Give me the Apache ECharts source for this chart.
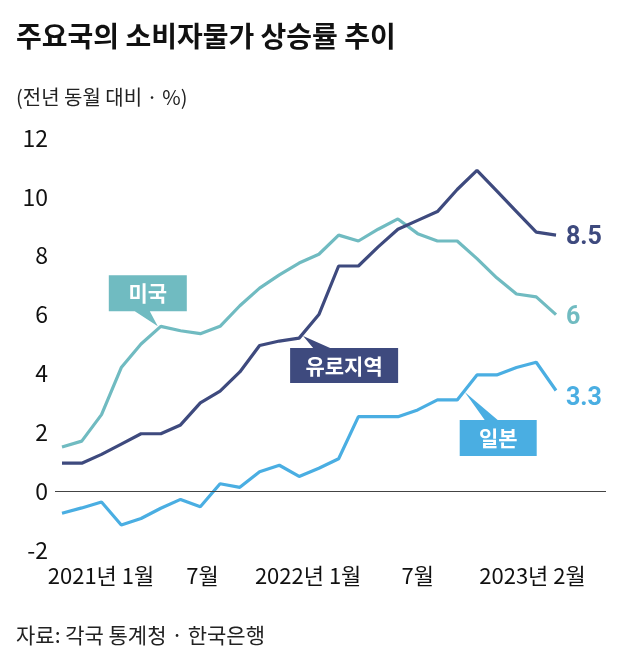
<!DOCTYPE html>
<html>
<head>
<meta charset="utf-8">
<script src="https://cdn.jsdelivr.net/npm/echarts@6/dist/echarts.min.js"></script>
<style>
html,body{margin:0;padding:0;background:#fff;}
#chart{width:630px;height:665px;}
</style>
</head>
<body>
<div id="chart"></div>
<script>
// ---- data (month index 0 = 2021-01 ... 25 = 2023-02) ----
const months = ['2021-01','2021-02','2021-03','2021-04','2021-05','2021-06','2021-07','2021-08','2021-09','2021-10','2021-11','2021-12',
  '2022-01','2022-02','2022-03','2022-04','2022-05','2022-06','2022-07','2022-08','2022-09','2022-10','2022-11','2022-12',
  '2023-01','2023-02'];
const usValues   = [1.5,1.7,2.6,4.2,5.0,5.6,5.45,5.35,5.6,6.3,6.9,7.35,7.75,8.05,8.7,8.5,8.9,9.25,8.75,8.5,8.5,7.9,7.25,6.7,6.6,6.0];
const euroValues = [0.95,0.95,1.25,1.6,1.95,1.95,2.25,3.0,3.4,4.05,4.95,5.1,5.2,6.0,7.65,7.65,8.3,8.9,9.2,9.5,10.25,10.9,10.2,9.5,8.8,8.7];
const jpValues   = [-0.75,-0.57,-0.37,-1.15,-0.93,-0.58,-0.28,-0.53,0.25,0.13,0.66,0.88,0.5,0.78,1.1,2.53,2.53,2.53,2.76,3.1,3.1,3.95,3.95,4.2,4.38,3.42];
const seriesNames = ['미국','유로지역','일본'];
const endLabels = ['6','8.5','3.3'];
const tickIdx = [0,6,12,18,25];
const tickLabels = ['2021년 1월','7월','2022년 1월','7월','2023년 2월'];
const yTicks = [-2,0,2,4,6,8,10,12];
const titleText = '주요국의 소비자물가 상승률 추이';
const unitText = '(전년 동월 대비 · %)';
const sourceText = '자료: 각국 통계청 · 한국은행';

const C_US = '#70bbc1', C_EU = '#3e4a7e', C_JP = '#4aaee2';
const FONT = "'Noto Sans CJK KR', 'Noto Sans', sans-serif";

function pairs(vals){ return vals.map((v,i)=>[i,v]); }

const chart = echarts.init(document.getElementById('chart'), null, {renderer:'canvas'});

const richShift = {
  t0:{padding:[0,0,0,78]},
  t1:{padding:[0,0,0,44]},
  t2:{padding:[0,0,0,18]},
  t3:{padding:[0,0,0,0]},
  t4:{padding:[0,47,0,0]}
};

function callout(idx, vals, name, color, path, size, offset, labelOffset){
  return {
    silent:true,
    symbol:'path://'+path,
    symbolSize:size,
    symbolOffset:offset,
    itemStyle:{color:color},
    label:{show:true, position:'inside', formatter:name, color:'#fff', fontSize:21, fontWeight:'bold', fontFamily:FONT, offset:labelOffset},
    data:[{coord:[idx, vals[idx]]}]
  };
}

const option = {
  backgroundColor:'#fff',
  animation:false,
  textStyle:{fontFamily:FONT},
  title:[
    {text:titleText, left:11, top:17, textStyle:{fontSize:28, fontWeight:'bold', color:'#111', fontFamily:FONT}},
    {text:unitText, left:11, top:82, textStyle:{fontSize:20, fontWeight:'normal', color:'#222', fontFamily:FONT}},
    {text:sourceText, left:11, top:620, textStyle:{fontSize:21, fontWeight:'normal', color:'#222', fontFamily:FONT}}
  ],
  grid:{left:55, right:24, top:138, bottom:115},
  xAxis:{
    type:'value', min:-0.354, max:27.53,
    axisLine:{show:false, onZero:false}, axisTick:{show:false}, splitLine:{show:false},
    axisLabel:{
      customValues:tickIdx, margin:15, fontSize:22, color:'#111', fontFamily:FONT,
      formatter:function(v){ const k = tickIdx.indexOf(Math.round(v)); return k<0?'':'{t'+k+'|'+tickLabels[k]+'}'; },
      rich:richShift
    }
  },
  yAxis:{
    type:'value', min:yTicks[0], max:yTicks[yTicks.length-1], interval:2,
    axisLine:{show:false}, axisTick:{show:false}, splitLine:{show:false},
    axisLabel:{margin:7, fontSize:23, color:'#111', fontFamily:FONT}
  },
  series:[
    {
      name:seriesNames[0], type:'line', data:pairs(usValues), symbol:'none',
      lineStyle:{color:C_US, width:3.2}, itemStyle:{color:C_US},
      endLabel:{show:true, formatter:endLabels[0], color:C_US, fontSize:25, fontWeight:'bold', fontFamily:'Roboto', distance:10, offset:[0,3]},
      markLine:{silent:true, symbol:'none', label:{show:false}, lineStyle:{color:'#444', width:1.2, type:'solid'}, data:[{yAxis:0}]},
      markPoint:callout(5, usValues, seriesNames[0], C_US, 'M0,0H78V36H41L49,51L26,36H0Z', [78,51], [-13,-25.5], [0,-7.5])
    },
    {
      name:seriesNames[1], type:'line', data:pairs(euroValues), symbol:'none',
      lineStyle:{color:C_EU, width:3.2}, itemStyle:{color:C_EU},
      endLabel:{show:true, formatter:endLabels[1], color:C_EU, fontSize:25, fontWeight:'bold', fontFamily:'Roboto', distance:10, offset:[0,3]},
      markPoint:callout(12, euroValues, seriesNames[1], C_EU, 'M13,0L40,12H108V47H0V12H23Z', [108,47], [45,21.5], [0,6])
    },
    {
      name:seriesNames[2], type:'line', data:pairs(jpValues), symbol:'none',
      lineStyle:{color:C_JP, width:3.2}, itemStyle:{color:C_JP},
      endLabel:{show:true, formatter:endLabels[2], color:C_JP, fontSize:25, fontWeight:'bold', fontFamily:'Roboto', distance:10, offset:[0,8]},
      markPoint:callout(20, jpValues, seriesNames[2], C_JP, 'M5,0L38,28H77V64H0V28H25Z', [77,64], [41,24], [0,14])
    }
  ]
};
chart.setOption(option);
</script>
</body>
</html>
